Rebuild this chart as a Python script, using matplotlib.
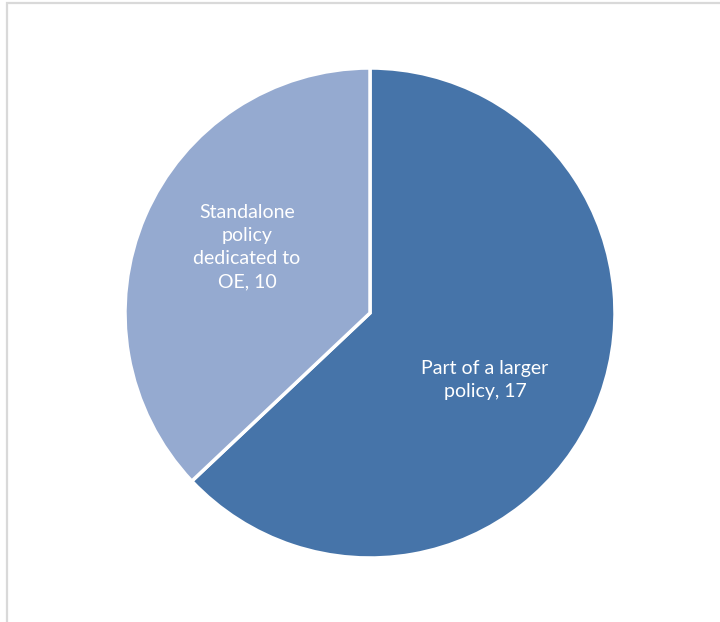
import matplotlib
matplotlib.use("Agg")
import matplotlib.pyplot as plt
from matplotlib.patches import Rectangle

categories = ["Part of a larger\npolicy", "Standalone\npolicy\ndedicated to\nOE"]
values = [17, 10]
colors = ["#4674a9", "#95aad0"]
label_pos = [(0.469, -0.273), (-0.502, 0.269)]

plt.rcParams["font.family"] = ["Lato", "DejaVu Sans"]

W, H = 720, 622
fig = plt.figure(figsize=(W / 100, H / 100), dpi=100)
fig.patch.set_facecolor("white")

# chart-area frame (open on the right and bottom)
fig.add_artist(Rectangle((7 / W, -0.1), 1.2, (H - 3) / H + 0.1, transform=fig.transFigure,
                         fill=False, edgecolor="#d9d9d9", linewidth=1.6))

cx, cy, r = 370, 313, 245
ax = fig.add_axes([(cx - r * 1.02) / W, (H - cy - r * 1.02) / H, 2.04 * r / W, 2.04 * r / H])
ax.pie(values, colors=colors, startangle=90, counterclock=False,
       wedgeprops=dict(edgecolor="white", linewidth=2.5))
ax.set_xlim(-1.02, 1.02)
ax.set_ylim(-1.02, 1.02)
ax.set_aspect("equal")
ax.axis("off")

for cat, val, (x, y) in zip(categories, values, label_pos):
    ax.text(x, y, f"{cat}, {val}", ha="center", va="center", color="white",
            fontsize=14, linespacing=1.42)

fig.savefig("out.png", dpi=100)
